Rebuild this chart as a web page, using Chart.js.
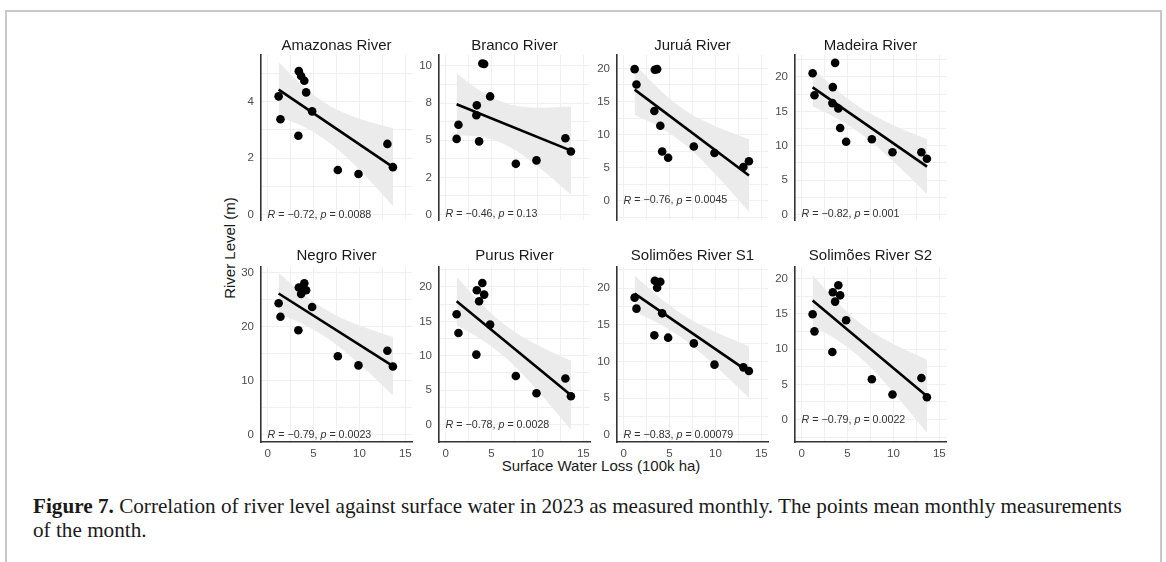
<!DOCTYPE html>
<html>
<head>
<meta charset="utf-8">
<script src="https://cdn.jsdelivr.net/npm/chart.js@4.4.1/dist/chart.umd.min.js"></script>
<style>
  body { margin: 0; background: #fff; width: 1166px; height: 562px; overflow: hidden; position: relative;
         font-family: "Liberation Sans", Arial, sans-serif; }
  .frame { position: absolute; left: 5px; top: 10px; width: 1153px; height: 600px;
           border: 2px solid #c8c8c8; border-bottom: none; }
  canvas { position: absolute; }
  .xtitle { position: absolute; left: 401px; width: 400px; top: 458px; text-align: center;
            font-size: 15px; line-height: 16px; color: #1a1a1a; }
  .ytitle { position: absolute; left: 130px; top: 240px; width: 200px; height: 16px; text-align: center;
            font-size: 15px; line-height: 16px; color: #1a1a1a; transform: rotate(-90deg); }
  .caption { position: absolute; left: 33px; top: 494px; font-family: "Liberation Serif", "Times New Roman", serif;
             font-size: 21.2px; line-height: 24px; color: #1a1a1a; white-space: nowrap; }
</style>
</head>
<body>
<div class="frame"></div>
<div class="ytitle">River Level (m)</div>
<div class="xtitle">Surface Water Loss (100k ha)</div>
<div class="caption"><b>Figure 7.</b> Correlation of river level against surface water in 2023 as measured monthly. The points mean monthly measurements<br>of the month.</div>

<script>
// monthly surface water loss (100k ha), shared by every panel
const surfaceLoss = [1.2, 1.4, 3.35, 3.4, 3.65, 4.0, 4.2, 4.85, 7.65, 9.9, 13.05, 13.65];

const rivers = ["Amazonas River", "Branco River", "Juruá River", "Madeira River",
                "Negro River", "Purus River", "Solimões River S1", "Solimões River S2"];

// river level (m), same month order as surfaceLoss
const amazonasLevel = [4.18, 3.37, 2.79, 5.07, 4.9, 4.73, 4.32, 3.65, 1.58, 1.44, 2.5, 1.68];
const brancoLevel   = [5.09, 6.04, 6.68, 7.35, 4.92, 10.17, 10.13, 7.95, 3.41, 3.64, 5.13, 4.24];
const juruaLevel    = [19.9, 17.57, 13.57, 19.8, 19.9, 11.33, 7.43, 6.47, 8.19, 7.19, 5.09, 5.94];
const madeiraLevel  = [20.55, 17.34, 16.2, 18.53, 22.06, 15.41, 12.59, 10.57, 10.94, 9.06, 9.06, 8.1];
const negroLevel    = [24.3, 21.8, 19.3, 27.2, 26.0, 28.0, 26.7, 23.6, 14.5, 12.8, 15.5, 12.6];
const purusLevel    = [16.03, 13.3, 10.17, 19.52, 17.92, 20.58, 18.89, 14.53, 7.06, 4.55, 6.69, 4.11];
const solimoesS1    = [18.69, 17.19, 13.55, 21.0, 20.05, 20.85, 16.55, 13.23, 12.45, 9.55, 9.18, 8.68];
const solimoesS2    = [14.94, 12.52, 9.6, 18.06, 16.74, 19.05, 17.63, 14.09, 5.72, 3.55, 5.9, 3.16];

// fitted line ends
const fitX = [1.2, 13.66];
const amazonasFit = [4.42, 1.68];
const brancoFit   = [7.42, 4.3];
const juruaFit    = [16.8, 3.8];
const madeiraFit  = [18.49, 6.96];
const negroFit    = [26.1, 12.65];
const purusFit    = [17.92, 4.26];
const s1Fit       = [19.24, 8.54];
const s2Fit       = [16.88, 3.3];

// confidence band edges
const bandX = [1.2, 4, 7, 10, 13.66];
const amazonasHi = [5.38, 4.5, 3.8, 3.39, 3.05],     amazonasLo = [3.46, 3.1, 2.48, 1.59, 0.31];
const brancoHi   = [9.51, 8.23, 7.4, 7.18, 7.27],    brancoLo   = [5.33, 5.21, 4.54, 3.26, 1.33];
const juruaHi    = [20.66, 16.68, 13.39, 11.25, 9.3], juruaLo   = [12.94, 11.08, 8.11, 3.99, -1.7];
const madeiraHi  = [21.29, 17.94, 15.04, 12.99, 10.96], madeiraLo = [15.69, 13.86, 11.2, 7.71, 2.96];
const negroHi    = [29.89, 25.83, 22.43, 20.16, 18.05], negroLo  = [22.31, 20.33, 17.25, 13.04, 7.25];
const purusHi    = [21.43, 17.39, 13.96, 11.57, 9.26], purusLo   = [14.41, 12.31, 9.16, 4.97, -0.74];
const s1Hi       = [21.7, 18.61, 15.94, 13.99, 12.04], s1Lo      = [16.78, 15.05, 12.58, 9.37, 5.04];
const s2Hi       = [20.53, 16.48, 13.06, 10.72, 8.5],  s2Lo      = [13.23, 11.18, 8.06, 3.86, -1.9];

const corR = ["−0.72", "−0.46", "−0.76", "−0.82", "−0.79", "−0.78", "−0.83", "−0.79"];
const corP = ["0.0088", "0.13", "0.0045", "0.001", "0.0023", "0.0028", "0.00079", "0.0022"];

const yMin = [-0.19, -0.38, -2.96, -0.82, -1.37, -2.53, -1.0, -3.18];
const yMax = [5.64, 10.74, 22.04, 23.2, 31.0, 22.9, 22.87, 21.65];
const yBreaks = [[0, 2, 4], [0, 2.5, 5, 7.5, 10], [0, 5, 10, 15, 20], [0, 5, 10, 15, 20],
                 [0, 10, 20, 30], [0, 5, 10, 15, 20], [0, 5, 10, 15, 20], [0, 5, 10, 15, 20]];
const yBreakLabels = [["0", "2", "4"], ["0", "2", "5", "8", "10"], ["0", "5", "10", "15", "20"],
                      ["0", "5", "10", "15", "20"], ["0", "10", "20", "30"], ["0", "5", "10", "15", "20"],
                      ["0", "5", "10", "15", "20"], ["0", "5", "10", "15", "20"]];
const xBreaks = [0, 5, 10, 15];
const xBreakLabels = ["0", "5", "10", "15"];
const xLimits = [-0.72, 15.73];

const levels = [amazonasLevel, brancoLevel, juruaLevel, madeiraLevel, negroLevel, purusLevel, solimoesS1, solimoesS2];
const fits = [amazonasFit, brancoFit, juruaFit, madeiraFit, negroFit, purusFit, s1Fit, s2Fit];
const bandHi = [amazonasHi, brancoHi, juruaHi, madeiraHi, negroHi, purusHi, s1Hi, s2Hi];
const bandLo = [amazonasLo, brancoLo, juruaLo, madeiraLo, negroLo, purusLo, s1Lo, s2Lo];

const colLeft = [261, 439, 617, 795];
const rowTop = [55, 267];
const plotW = 151, plotH = 175, leftM = 40, topM = 30, rightM = 6;
const titleGap = [5.5, 7.5];
const gridColor = "#f0f0f0";
const tickFont = { family: "Liberation Sans, Arial", size: 11.5 };

// major + minor gridline positions (ggplot style)
function withMinor(min, max, major) {
    const step = (major[1] - major[0]) / 2;
    const out = [];
    for (let v = Math.ceil(min / step) * step; v <= max + 1e-9; v += step) out.push({ value: +v.toFixed(4) });
    return out;
}

function labelFor(major, labels) {
    return function (value) {
        const i = major.findIndex(m => Math.abs(m - value) < 1e-6);
        return i >= 0 ? labels[i] : "";
    };
}

const statLabel = {
    id: "statLabel",
    afterDatasetsDraw(chart, args, opts) {
        const { ctx, chartArea } = chart;
        const x = chart.scales.x, y = chart.scales.y;
        const parts = [["R", true], [" = " + opts.r + ", ", false], ["p", true], [" = " + opts.p, false]];
        ctx.save();
        ctx.fillStyle = "#333";
        ctx.textBaseline = "middle";
        let cx = x.getPixelForValue(0);
        const cy = y.getPixelForValue(0);
        for (const [t, it] of parts) {
            ctx.font = (it ? "italic " : "") + "10.7px 'Liberation Sans', Arial";
            ctx.fillText(t, cx, cy);
            cx += ctx.measureText(t).width;
        }
        ctx.font = "15px 'Liberation Sans', Arial";
        ctx.fillStyle = "#1a1a1a";
        ctx.textAlign = "center";
        ctx.textBaseline = "alphabetic";
        ctx.fillText(opts.title, (chartArea.left + chartArea.right) / 2, chartArea.top - opts.gap);
        ctx.restore();
    }
};

for (let p = 0; p < 8; p++) {
    const row = Math.floor(p / 4), col = p % 4;
    const bottomH = row === 1 ? 26 : 4;
    const cv = document.createElement("canvas");
    cv.width = leftM + plotW + rightM;
    cv.height = topM + plotH + bottomH;
    cv.style.left = (colLeft[col] - leftM) + "px";
    cv.style.top = (rowTop[row] - topM) + "px";
    document.body.appendChild(cv);

    new Chart(cv, {
        type: "scatter",
        data: {
            datasets: [
                { data: bandX.map((x, i) => ({ x, y: bandHi[p][i] })), showLine: true, borderWidth: 0,
                  pointRadius: 0, fill: false, cubicInterpolationMode: "monotone", order: 3 },
                { data: bandX.map((x, i) => ({ x, y: bandLo[p][i] })), showLine: true, borderWidth: 0,
                  pointRadius: 0, fill: "-1", backgroundColor: "#ebebeb", cubicInterpolationMode: "monotone", order: 2 },
                { data: fitX.map((x, i) => ({ x, y: fits[p][i] })), showLine: true, borderColor: "#000",
                  borderWidth: 2.6, pointRadius: 0, order: 1 },
                { data: surfaceLoss.map((x, i) => ({ x, y: levels[p][i] })), pointRadius: 4.3,
                  backgroundColor: "#000", borderWidth: 0, order: 0 }
            ]
        },
        options: {
            responsive: false,
            animation: false,
            events: [],
            layout: { padding: { top: topM, right: rightM, left: 0, bottom: 0 } },
            plugins: {
                legend: { display: false },
                tooltip: { enabled: false },
                statLabel: { r: corR[p], p: corP[p], title: rivers[p], gap: titleGap[row] }
            },
            scales: {
                x: {
                    type: "linear", min: xLimits[0], max: xLimits[1],
                    afterBuildTicks: s => { s.ticks = withMinor(xLimits[0], xLimits[1], xBreaks); },
                    afterFit: s => { s.height = bottomH; },
                    grid: { color: gridColor, lineWidth: 1, drawTicks: false },
                    border: { display: row === 1, color: "#333", width: 1.6 },
                    ticks: { display: row === 1, autoSkip: false, maxRotation: 0, padding: 5, color: "#4d4d4d",
                             font: tickFont, callback: labelFor(xBreaks, xBreakLabels) }
                },
                y: {
                    type: "linear", min: yMin[p], max: yMax[p],
                    afterBuildTicks: s => { s.ticks = withMinor(yMin[p], yMax[p], yBreaks[p]); },
                    afterFit: s => { s.width = leftM; },
                    grid: { color: gridColor, lineWidth: 1, drawTicks: false },
                    border: { display: true, color: "#333", width: 1.6 },
                    ticks: { autoSkip: false, padding: 7, color: "#4d4d4d", font: tickFont,
                             callback: labelFor(yBreaks[p], yBreakLabels[p]) }
                }
            }
        },
        plugins: [statLabel]
    });
}
</script>
</body>
</html>
